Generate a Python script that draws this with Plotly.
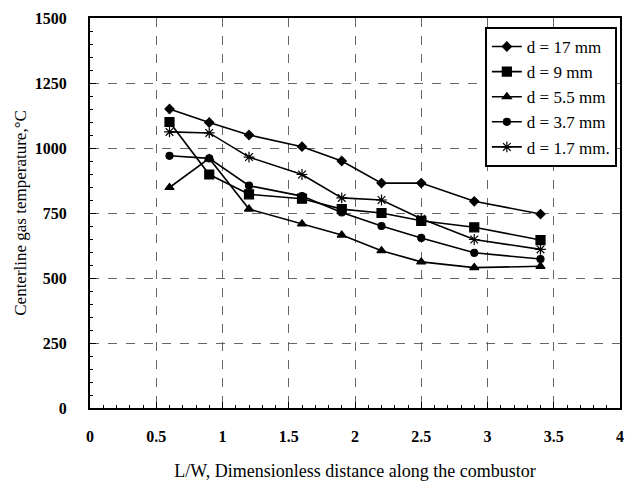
import plotly.graph_objects as go

x_vals = [0.6, 0.9, 1.2, 1.6, 1.9, 2.2, 2.5, 2.9, 3.4]
d17 = [1150, 1098, 1050, 1005, 950, 865, 865, 795, 746]
d9 = [1100, 898, 822, 805, 765, 750, 720, 695, 646]
d55 = [848, 960, 765, 708, 665, 605, 562, 540, 545]
d37 = [970, 960, 855, 815, 752, 700, 654, 597, 573]
d17b = [1062, 1058, 965, 898, 808, 800, 728, 648, 610]

names = ["d = 17 mm", "d = 9 mm", "d = 5.5 mm", "d = 3.7 mm", "d = 1.7 mm."]
series = [d17, d9, d55, d37, d17b]
symbols = ["diamond", "square", "triangle-up", "circle", "asterisk-open"]
sizes = [7, 9, 8, 7, 9]

x_ticks = [0, 0.5, 1, 1.5, 2, 2.5, 3, 3.5, 4]
y_ticks = [0, 250, 500, 750, 1000, 1250, 1500]

fig = go.Figure()
for n, s, sym, sz in zip(names, series, symbols, sizes):
    fig.add_trace(go.Scatter(
        x=x_vals, y=s, name=n, mode="lines+markers",
        line=dict(color="black", width=1.6),
        marker=dict(symbol=sym, size=sz, color="black",
                    line=dict(color="black", width=1.2)),
    ))

font_family = "Liberation Serif"
tick_font = dict(family=font_family, size=16, color="black", weight="bold")
fig.update_layout(
    width=630, height=490,
    margin=dict(l=90, r=6, t=18, b=82),
    paper_bgcolor="white", plot_bgcolor="white",
    font=dict(family=font_family, color="black", size=14),
    showlegend=True,
    legend=dict(x=0.745, y=0.977, xanchor="left", yanchor="top",
                bgcolor="white", bordercolor="black", borderwidth=2,
                font=dict(family=font_family, size=17, color="black"),
                tracegroupgap=0, itemwidth=30),
    xaxis=dict(range=[0, 4], tickvals=x_ticks, ticktext=[str(v) for v in x_ticks],
               showgrid=True, gridcolor="#666", griddash="dash", gridwidth=1,
               showline=True, linecolor="black", linewidth=2, mirror=True,
               ticks="inside", ticklen=6, tickcolor="black",
               minor=dict(dtick=0.1, ticks="inside", ticklen=3, tickcolor="black", showgrid=False),
               tickfont=tick_font,
               ticklabelstandoff=13, zeroline=False,
               title=dict(text="L/W, Dimensionless distance along the combustor",
                          font=dict(family=font_family, size=18, color="black"), standoff=20)),
    yaxis=dict(range=[0, 1500], tickvals=y_ticks, ticktext=[str(v) for v in y_ticks],
               showgrid=True, gridcolor="#666", griddash="dash", gridwidth=1,
               showline=True, linecolor="black", linewidth=2, mirror=True,
               ticks="inside", ticklen=6, tickcolor="black",
               minor=dict(dtick=50, ticks="inside", ticklen=3, tickcolor="black", showgrid=False),
               tickfont=tick_font,
               ticklabelstandoff=18, zeroline=False,
               title=dict(text="Centerline gas temperature,°C",
                          font=dict(family=font_family, size=17, color="black"), standoff=4)),
)

fig.write_html("out.html")
